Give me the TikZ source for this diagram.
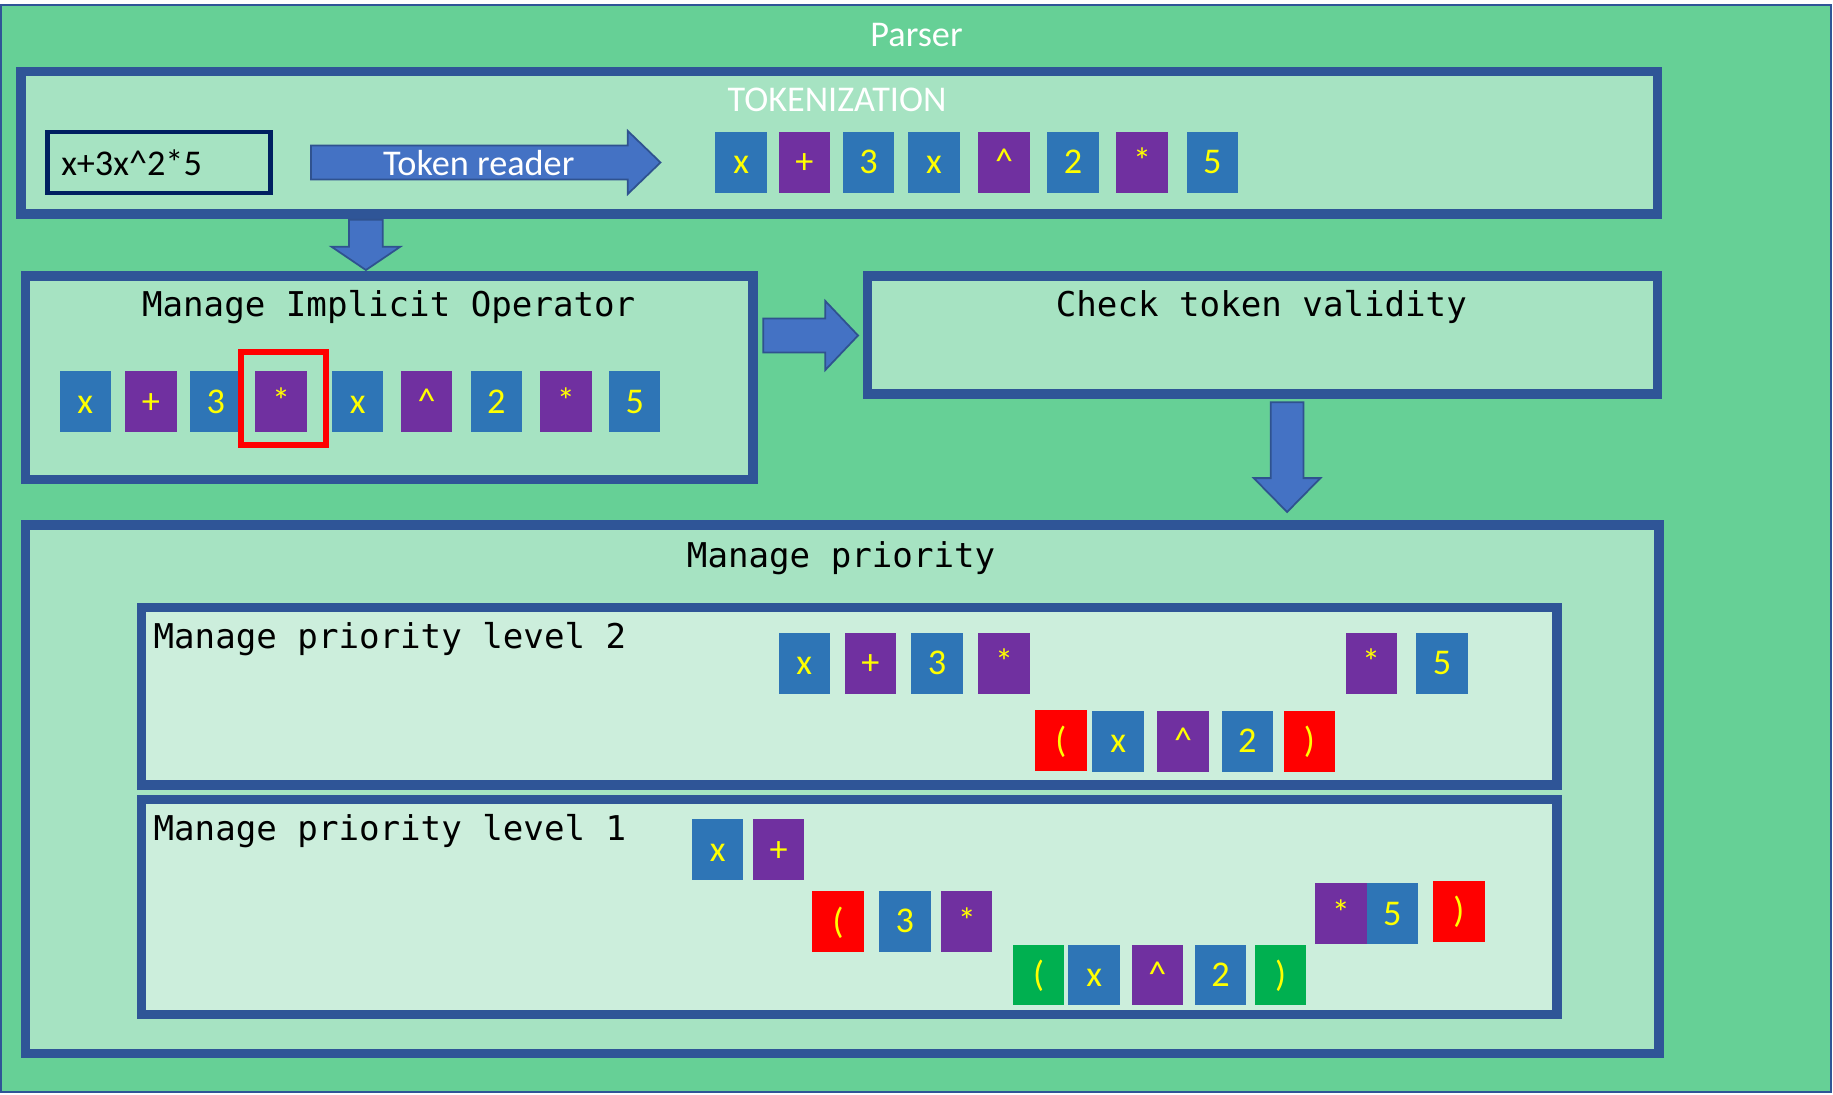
\documentclass[tikz,border=0pt]{standalone}
\usepackage{fontspec}
\setmainfont{Carlito}
\newfontfamily\codefont{DejaVu Sans Mono}
\usetikzlibrary{calc}

\newlength{\du}
\setlength{\du}{0.5pt}

\definecolor{parsergreen}{RGB}{102,208,150}
\definecolor{boxfill}{RGB}{166,227,194}
\definecolor{levelfill}{RGB}{204,238,220}
\definecolor{boxborder}{RGB}{47,85,151}
\definecolor{arrowfill}{RGB}{68,114,196}
\definecolor{arrowline}{RGB}{47,82,143}
\definecolor{inborder}{RGB}{0,32,96}
\definecolor{opndblue}{RGB}{46,117,182}
\definecolor{operpurple}{RGB}{112,48,160}
\definecolor{parred}{RGB}{255,0,0}
\definecolor{pargreen}{RGB}{0,176,80}
\definecolor{tokyellow}{RGB}{255,255,0}

\tikzset{
  parserbox/.style={draw=boxborder, line width=2\du, fill=parsergreen, inner sep=0pt},
  box/.style={draw=boxborder, line width=8\du, fill=boxfill, inner sep=0pt},
  levelbox/.style={draw=boxborder, line width=8\du, fill=levelfill, inner sep=0pt},
  inbox/.style={draw=inborder, line width=4\du, fill=boxfill, inner sep=0pt},
  hilite/.style={draw=parred, line width=5\du, inner sep=0pt},
  blockarrow/.style={fill=arrowfill, draw=arrowline, line width=1.5\du},
  titlesans/.style={inner sep=0pt, text=white, font=\fontsize{15.5}{18}\selectfont},
  titlecode/.style={inner sep=0pt, text=black, font=\codefont\fontsize{14.6}{17}\selectfont},
  token/.style={minimum width=44\du, minimum height=52\du, inner sep=0pt,
    text=tokyellow, text height=9.8pt, text depth=0pt,
    font=\fontsize{15.5}{18}\selectfont},
  opnd/.style={token, fill=opndblue},
  oper/.style={token, fill=operpurple},
  rpar/.style={token, fill=parred},
  gpar/.style={token, fill=pargreen}
}

\begin{document}
\begin{tikzpicture}
\pgftransformxscale{1.000000}
\pgftransformyscale{-1.000000}
\useasboundingbox (0\du,0\du) rectangle (1568\du,936\du);
% parser
\node[parserbox, minimum width=1565\du, minimum height=930\du] (parser) at (783.5\du,469\du) {};
\node[titlesans, anchor=base] (parserT) at (784\du,40\du) {Parser};
% boxes
\node[box, minimum width=1400\du, minimum height=122\du] (tokbox) at (718\du,122\du) {};
\node[box, minimum width=622\du, minimum height=174\du] (mio) at (333\du,323\du) {};
\node[box, minimum width=676\du, minimum height=101\du] (check) at (1080\du,286.5\du) {};
\node[box, minimum width=1397\du, minimum height=452\du] (prio) at (720.5\du,675\du) {};
\node[levelbox, minimum width=1211\du, minimum height=152\du] (lvltwo) at (726.5\du,595.5\du) {};
\node[levelbox, minimum width=1211\du, minimum height=184\du] (lvlone) at (726.5\du,776\du) {};
% titles
\node[titlesans, anchor=base] (tokT) at (716\du,95.5\du) {TOKENIZATION};
\node[titlecode, anchor=base] (mioT) at (332.5\du,271\du) {Manage Implicit Operator};
\node[titlecode, anchor=base] (checkT) at (1079\du,271\du) {Check token validity};
\node[titlecode, anchor=base] (prioT) at (719.5\du,485.5\du) {Manage priority};
\node[titlecode, anchor=base west] (lvltwoT) at (131\du,555\du) {Manage priority level 2};
\node[titlecode, anchor=base west] (lvloneT) at (131\du,719\du) {Manage priority level 1};
% input
\node[inbox, minimum width=191\du, minimum height=52\du] (expr) at (136\du,139\du) {};
\node[titlesans, text=black, anchor=base west] (exprT) at (52\du,150\du) {x+3x\textasciicircum 2*5};
% token reader
\coordinate (rdA) at (266\du,139\du);
\coordinate (rdB) at (565\du,139\du);
\filldraw[blockarrow] ($(rdA)+(0\du,-14.5\du)$) -- ($(rdB)+(-28\du,-14.5\du)$) -- ($(rdB)+(-28\du,-27\du)$) -- (rdB) -- ($(rdB)+(-28\du,27\du)$) -- ($(rdB)+(-28\du,14.5\du)$) -- ($(rdA)+(0\du,14.5\du)$) -- cycle;
\node[titlesans, anchor=base] (rdT) at (409.5\du,150\du) {Token reader};
% tokens
\node[opnd] (t1) at (634\du,139\du) {x};
\node[oper] (t2) at (688\du,139\du) {+};
\node[opnd] (t3) at (743\du,139\du) {3};
\node[opnd] (t4) at (799\du,139\du) {x};
\node[oper] (t5) at (859\du,139\du) {\textasciicircum};
\node[opnd] (t6) at (918\du,139\du) {2};
\node[oper] (t7) at (977\du,139\du) {*};
\node[opnd] (t8) at (1037\du,139\du) {5};
% implicit operator
\node[opnd] (m1) at (73\du,343.5\du) {x};
\node[oper] (m2) at (129\du,343.5\du) {+};
\node[opnd] (m3) at (184.5\du,343.5\du) {3};
\node[oper] (m4) at (240.5\du,343.5\du) {*};
\node[opnd] (m5) at (306\du,343.5\du) {x};
\node[oper] (m6) at (365\du,343.5\du) {\textasciicircum};
\node[opnd] (m7) at (424.5\du,343.5\du) {2};
\node[oper] (m8) at (484\du,343.5\du) {*};
\node[opnd] (m9) at (543\du,343.5\du) {5};
\node[hilite, minimum width=73\du, minimum height=80\du] (mhl) at (242.5\du,341\du) {};
% level 2
\node[opnd] (la1) at (688\du,567.5\du) {x};
\node[oper] (la2) at (744.5\du,567.5\du) {+};
\node[opnd] (la3) at (801.5\du,567.5\du) {3};
\node[oper] (la4) at (859\du,567.5\du) {*};
\node[oper] (la5) at (1173\du,567.5\du) {*};
\node[opnd] (la6) at (1233.5\du,567.5\du) {5};
\node[rpar] (lb1) at (907.5\du,633.5\du) {(};
\node[opnd] (lb2) at (956.5\du,634\du) {x};
\node[oper] (lb3) at (1012\du,634\du) {\textasciicircum};
\node[opnd] (lb4) at (1067\du,634\du) {2};
\node[rpar] (lb5) at (1120\du,634\du) {)};
% level 1
\node[opnd] (lc1) at (614\du,727\du) {x};
\node[oper] (lc2) at (666\du,727\du) {+};
\node[rpar] (ld1) at (717\du,788.5\du) {(};
\node[opnd] (ld2) at (774\du,788\du) {3};
\node[oper] (ld3) at (827\du,788.5\du) {*};
\node[gpar] (le1) at (888.5\du,834\du) {(};
\node[opnd] (le2) at (936\du,834\du) {x};
\node[oper] (le3) at (990\du,834\du) {\textasciicircum};
\node[opnd] (le4) at (1044\du,834\du) {2};
\node[gpar] (le5) at (1095.5\du,834\du) {)};
\node[oper] (lf1) at (1147\du,781.5\du) {*};
\node[opnd] (lf2) at (1191\du,781.5\du) {5};
\node[rpar] (lg1) at (1248\du,779.5\du) {)};
% arrows
\coordinate (d1x) at (313\du,0\du);
\coordinate (d1a) at ($(d1x |- tokbox.south)+(0\du,1\du)$);
\coordinate (d1b) at ($(d1x |- mio.north)+(0\du,-1\du)$);
\filldraw[blockarrow] ($(d1a)+(-14.5\du,0\du)$) -- ($(d1b)+(-14.5\du,-20\du)$) -- ($(d1b)+(-29.5\du,-20\du)$) -- (d1b) -- ($(d1b)+(29.5\du,-20\du)$) -- ($(d1b)+(14.5\du,-20\du)$) -- ($(d1a)+(14.5\du,0\du)$) -- cycle;
\coordinate (r2y) at (0\du,287\du);
\coordinate (r2a) at ($(mio.east |- r2y)+(5\du,0\du)$);
\coordinate (r2b) at ($(check.west |- r2y)+(-4\du,0\du)$);
\filldraw[blockarrow] ($(r2a)+(0\du,-14.5\du)$) -- ($(r2b)+(-28\du,-14.5\du)$) -- ($(r2b)+(-28\du,-29.5\du)$) -- (r2b) -- ($(r2b)+(-28\du,29.5\du)$) -- ($(r2b)+(-28\du,14.5\du)$) -- ($(r2a)+(0\du,14.5\du)$) -- cycle;
\coordinate (d3x) at (1101\du,0\du);
\coordinate (d3a) at ($(d3x |- check.south)+(0\du,3\du)$);
\coordinate (d3b) at ($(d3x |- prio.north)+(0\du,-7\du)$);
\filldraw[blockarrow] ($(d3a)+(-14\du,0\du)$) -- ($(d3b)+(-14\du,-29\du)$) -- ($(d3b)+(-28.5\du,-29\du)$) -- (d3b) -- ($(d3b)+(28.5\du,-29\du)$) -- ($(d3b)+(14\du,-29\du)$) -- ($(d3a)+(14\du,0\du)$) -- cycle;
\end{tikzpicture}
\end{document}
